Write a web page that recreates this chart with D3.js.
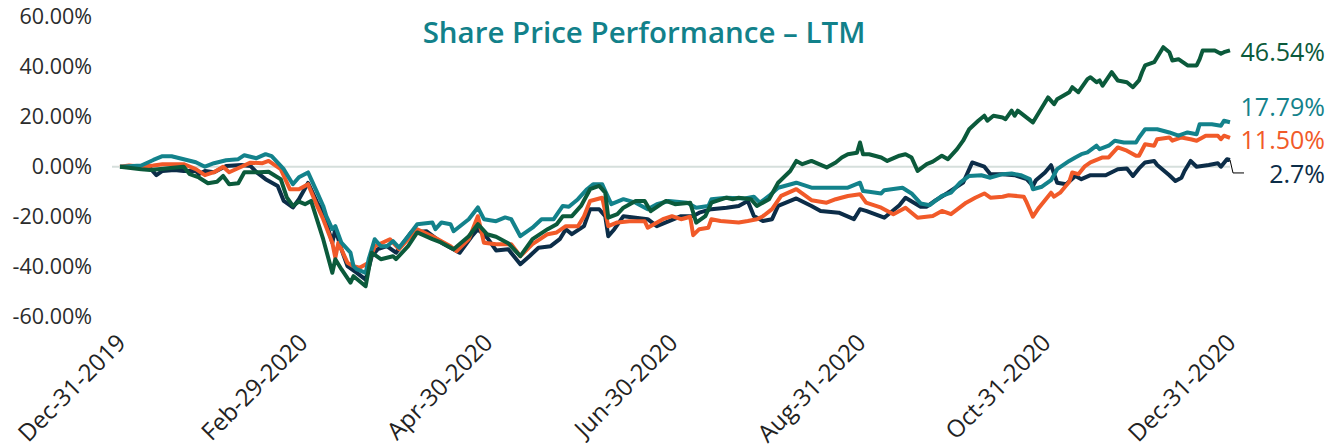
<!DOCTYPE html>
<html>
<head>
<meta charset="utf-8">
<script src="https://cdn.jsdelivr.net/npm/d3@7"></script>
<style>
  body { margin: 0; background: #fff; }
  svg { display: block; }
  text { font-family: "Open Sans", sans-serif; }
</style>
</head>
<body>
<svg id="chart" width="1337" height="448"></svg>
<script>
// Cumulative share price change (%) since Dec-31-2019
var greenSeries = [
  ["2019-12-31",0],["2020-01-07",-1],["2020-01-10",-1.3],["2020-01-15",-0.7],["2020-01-21",0],["2020-01-23",-3],
  ["2020-01-26",-4.3],["2020-01-29",-6.6],["2020-02-01",-6],["2020-02-03",-3.7],["2020-02-05",-7],["2020-02-08",-6.6],
  ["2020-02-10",-2.2],["2020-02-15",-2.2],["2020-02-18",-2],["2020-02-22",-5],["2020-02-24",-12.3],["2020-02-26",-15.7],
  ["2020-02-28",-14],["2020-03-01",-15],["2020-03-03",-13.7],["2020-03-07",-29],["2020-03-10",-42.4],["2020-03-11",-37],
  ["2020-03-13",-41],["2020-03-16",-46.4],["2020-03-17",-43.8],["2020-03-21",-47.8],["2020-03-23",-34.4],["2020-03-26",-37],
  ["2020-03-30",-35.8],["2020-03-31",-37],["2020-04-04",-31.8],["2020-04-07",-26.3],["2020-04-12",-29],["2020-04-15",-30.4],
  ["2020-04-19",-33],["2020-04-24",-27.8],["2020-04-27",-23],["2020-04-30",-27],["2020-05-03",-28],["2020-05-07",-30.6],
  ["2020-05-11",-35.8],["2020-05-15",-29],["2020-05-20",-25],["2020-05-23",-23],["2020-05-25",-19.8],["2020-05-28",-19.8],
  ["2020-05-31",-15.7],["2020-06-03",-9],["2020-06-06",-7.7],["2020-06-08",-10.4],["2020-06-09",-20.4],["2020-06-12",-19],
  ["2020-06-14",-16.4],["2020-06-18",-13.7],["2020-06-21",-13.7],["2020-06-23",-17.8],["2020-06-28",-13.7],["2020-07-01",-15],
  ["2020-07-06",-14.4],["2020-07-08",-22.4],["2020-07-11",-19.8],["2020-07-13",-14.4],["2020-07-18",-12.4],["2020-07-20",-13],
  ["2020-07-22",-12.4],["2020-07-26",-13],["2020-07-28",-15.7],["2020-08-01",-13],["2020-08-04",-6.4],["2020-08-08",-1.7],
  ["2020-08-10",2.3],["2020-08-12",1],["2020-08-15",2.3],["2020-08-20",-0.3],["2020-08-23",1.7],["2020-08-25",3.7],
  ["2020-08-27",5],["2020-08-30",5.6],["2020-08-31",9.7],["2020-09-01",5],["2020-09-03",5],["2020-09-07",3.7],
  ["2020-09-09",2.3],["2020-09-13",4.4],["2020-09-15",5],["2020-09-17",3.7],["2020-09-19",-1.7],["2020-09-22",1],
  ["2020-09-24",2],["2020-09-27",4.4],["2020-09-29",3],["2020-10-02",7],["2020-10-04",10.4],["2020-10-06",15],
  ["2020-10-09",18.4],["2020-10-11",20.4],["2020-10-12",18.4],["2020-10-14",20.4],["2020-10-17",19.7],["2020-10-18",19],
  ["2020-10-20",22.4],["2020-10-21",20.4],["2020-10-22",22.4],["2020-10-27",17.7],["2020-10-29",21.7],["2020-11-01",27.7],
  ["2020-11-03",25],["2020-11-04",27],["2020-11-08",29.8],["2020-11-09",31.8],["2020-11-11",29.8],["2020-11-14",35],
  ["2020-11-15",35.8],["2020-11-17",33.8],["2020-11-18",34.5],["2020-11-19",32.4],["2020-11-22",37.8],["2020-11-24",34.5],
  ["2020-11-27",33.8],["2020-11-29",31.8],["2020-12-01",34.5],["2020-12-02",37.8],["2020-12-03",40.5],["2020-12-06",41.8],
  ["2020-12-08",45.8],["2020-12-09",47.8],["2020-12-11",45.8],["2020-12-12",42.5],["2020-12-14",43],["2020-12-17",40.5],
  ["2020-12-20",40.5],["2020-12-21",43],["2020-12-22",46.5],["2020-12-26",46.5],["2020-12-28",45.2],["2020-12-29",45.8],
  ["2020-12-31",46.54]
];

var tealSeries = [
  ["2019-12-31",0],["2020-01-07",0.5],["2020-01-11",2.7],["2020-01-14",4.2],["2020-01-17",4.2],["2020-01-21",3],
  ["2020-01-25",1.8],["2020-01-28",0],["2020-01-31",1.4],["2020-02-04",2.6],["2020-02-08",3],["2020-02-10",4.6],
  ["2020-02-14",3.4],["2020-02-17",5],["2020-02-19",4.2],["2020-02-23",-1],["2020-02-26",-7],["2020-02-28",-4.2],
  ["2020-03-02",-2.3],["2020-03-05",-10.3],["2020-03-07",-15.7],["2020-03-08",-19.7],["2020-03-10",-25],["2020-03-11",-23.8],
  ["2020-03-13",-30.4],["2020-03-16",-34.4],["2020-03-17",-39.8],["2020-03-18",-41],["2020-03-21",-42.5],["2020-03-22",-37],
  ["2020-03-24",-29],["2020-03-26",-31.8],["2020-03-28",-31.8],["2020-03-30",-29.8],["2020-04-01",-32.4],["2020-04-04",-27.8],
  ["2020-04-07",-23],["2020-04-12",-22.3],["2020-04-13",-25],["2020-04-15",-22.3],["2020-04-18",-23],["2020-04-19",-25.8],
  ["2020-04-24",-21],["2020-04-27",-16.3],["2020-04-29",-21],["2020-05-03",-21.8],["2020-05-06",-20.3],["2020-05-08",-21],
  ["2020-05-11",-27.8],["2020-05-15",-24.4],["2020-05-18",-21],["2020-05-22",-21],["2020-05-25",-15.7],["2020-05-27",-16],
  ["2020-05-30",-13],["2020-06-02",-9],["2020-06-04",-7],["2020-06-07",-7],["2020-06-08",-9.7],["2020-06-10",-15],
  ["2020-06-14",-13],["2020-06-18",-14.4],["2020-06-22",-17],["2020-06-25",-15],["2020-06-29",-13.7],["2020-07-05",-14.4],
  ["2020-07-08",-16.4],["2020-07-12",-15.7],["2020-07-13",-13],["2020-07-18",-12.4],["2020-07-24",-12.7],["2020-07-27",-12],
  ["2020-07-29",-14.4],["2020-08-01",-11.7],["2020-08-04",-8.4],["2020-08-10",-6.4],["2020-08-15",-8.4],["2020-08-22",-8.4],
  ["2020-08-27",-8.4],["2020-08-31",-6.4],["2020-09-01",-9.7],["2020-09-03",-10],["2020-09-07",-10.7],["2020-09-08",-9.4],
  ["2020-09-14",-8.4],["2020-09-17",-10.7],["2020-09-20",-14.7],["2020-09-23",-15.4],["2020-09-27",-11.7],["2020-09-30",-10.4],
  ["2020-10-03",-6.4],["2020-10-06",-3.7],["2020-10-10",-3.4],["2020-10-13",-4.4],["2020-10-17",-3],["2020-10-20",-2.7],
  ["2020-10-23",-3.4],["2020-10-26",-5],["2020-10-27",-9],["2020-10-30",-8],["2020-11-02",-5.4],["2020-11-04",-1],
  ["2020-11-08",2.3],["2020-11-10",3.7],["2020-11-12",5],["2020-11-14",5.7],["2020-11-17",8.4],["2020-11-18",7],
  ["2020-11-21",8.4],["2020-11-23",10.4],["2020-11-26",9.7],["2020-11-30",9.7],["2020-12-01",11.7],["2020-12-03",15],
  ["2020-12-07",15],["2020-12-11",13.7],["2020-12-14",12.4],["2020-12-17",13.7],["2020-12-20",13],["2020-12-21",17],
  ["2020-12-25",17],["2020-12-28",16.4],["2020-12-29",18.4],["2020-12-31",17.79]
];

var orangeSeries = [
  ["2019-12-31",0],["2020-01-03",0.5],["2020-01-07",0],["2020-01-11",0.5],["2020-01-14",1],["2020-01-21",1],
  ["2020-01-25",-1],["2020-01-28",-3.4],["2020-01-31",-2.2],["2020-02-03",0],["2020-02-05",-2.2],["2020-02-09",0],
  ["2020-02-12",1.6],["2020-02-16",1.4],["2020-02-18",2.3],["2020-02-22",-1],["2020-02-25",-9],["2020-02-28",-9],
  ["2020-03-02",-7],["2020-03-05",-15.7],["2020-03-07",-21],["2020-03-10",-30.4],["2020-03-11",-36.4],["2020-03-12",-30.4],
  ["2020-03-15",-38.4],["2020-03-17",-39.8],["2020-03-19",-40.4],["2020-03-22",-38.4],["2020-03-24",-31.8],["2020-03-29",-29],
  ["2020-04-01",-33],["2020-04-07",-25],["2020-04-12",-27.8],["2020-04-18",-31.8],["2020-04-20",-33.8],["2020-04-24",-29],
  ["2020-04-27",-19.8],["2020-04-29",-30.4],["2020-05-03",-31],["2020-05-08",-31],["2020-05-11",-35.8],["2020-05-15",-31],
  ["2020-05-20",-27],["2020-05-23",-26.3],["2020-05-26",-23.8],["2020-05-30",-23.8],["2020-06-01",-19.8],["2020-06-03",-13.7],
  ["2020-06-07",-12.4],["2020-06-09",-23.8],["2020-06-12",-22.3],["2020-06-16",-21.8],["2020-06-21",-21.8],["2020-06-22",-24.4],
  ["2020-06-27",-21],["2020-06-30",-19.8],["2020-07-03",-21],["2020-07-06",-20],["2020-07-07",-27.4],["2020-07-09",-25],
  ["2020-07-12",-24.4],["2020-07-13",-21],["2020-07-16",-21.7],["2020-07-22",-22.3],["2020-07-25",-21.7],["2020-07-28",-21],
  ["2020-07-30",-19.8],["2020-08-02",-17],["2020-08-05",-11.7],["2020-08-10",-9],["2020-08-15",-13.4],["2020-08-20",-14.4],
  ["2020-08-23",-13],["2020-08-27",-11.7],["2020-08-31",-11],["2020-09-02",-14.4],["2020-09-07",-16.4],["2020-09-11",-19],
  ["2020-09-15",-16.4],["2020-09-19",-20.4],["2020-09-24",-19.7],["2020-09-27",-17.7],["2020-09-30",-19],["2020-10-05",-14.4],
  ["2020-10-08",-12.4],["2020-10-11",-10.7],["2020-10-13",-12.4],["2020-10-17",-12],["2020-10-19",-11.4],["2020-10-24",-12],
  ["2020-10-25",-14.4],["2020-10-27",-20],["2020-10-29",-16.4],["2020-11-02",-10.4],["2020-11-03",-12],["2020-11-05",-10.4],
  ["2020-11-08",-6],["2020-11-09",-2.3],["2020-11-11",-3],["2020-11-13",0],["2020-11-15",1.7],["2020-11-19",3.7],
  ["2020-11-21",3.7],["2020-11-24",7.7],["2020-11-27",6.4],["2020-11-30",4.4],["2020-12-01",4.4],["2020-12-03",9],
  ["2020-12-06",8.4],["2020-12-07",11],["2020-12-11",11.7],["2020-12-12",10.4],["2020-12-15",11.7],["2020-12-18",11],
  ["2020-12-20",10.4],["2020-12-23",12.4],["2020-12-27",12.4],["2020-12-28",11],["2020-12-29",12.4],["2020-12-31",11.5]
];

var navySeries = [
  ["2019-12-31",0],["2020-01-07",-0.2],["2020-01-10",-0.7],["2020-01-12",-3.4],["2020-01-14",-1.7],["2020-01-18",-1.3],
  ["2020-01-21",-1.7],["2020-01-25",-1.7],["2020-01-26",-3],["2020-01-28",-1.7],["2020-01-31",-2.2],["2020-02-04",0.3],
  ["2020-02-09",0.7],["2020-02-12",0.3],["2020-02-14",-2.2],["2020-02-17",-5],["2020-02-21",-7.7],["2020-02-23",-13.7],
  ["2020-02-26",-16.3],["2020-02-28",-13],["2020-03-02",-6.5],["2020-03-05",-14.3],["2020-03-07",-18.3],["2020-03-10",-30.4],
  ["2020-03-11",-25],["2020-03-13",-33],["2020-03-15",-39.8],["2020-03-18",-42.4],["2020-03-21",-45.2],["2020-03-23",-35.8],
  ["2020-03-25",-33],["2020-03-28",-31.8],["2020-03-31",-34.4],["2020-04-05",-26.3],["2020-04-10",-25.8],["2020-04-15",-30.4],
  ["2020-04-21",-34.4],["2020-04-25",-27.8],["2020-04-27",-25],["2020-04-30",-28.3],["2020-05-03",-33.5],["2020-05-07",-33],
  ["2020-05-11",-39],["2020-05-14",-35.8],["2020-05-17",-32.4],["2020-05-21",-31.8],["2020-05-24",-29],["2020-05-26",-25],
  ["2020-05-28",-27],["2020-06-01",-23.8],["2020-06-03",-17],["2020-06-06",-17],["2020-06-08",-19.8],["2020-06-09",-27.8],
  ["2020-06-11",-25],["2020-06-14",-19.8],["2020-06-18",-20.4],["2020-06-22",-21],["2020-06-25",-23.8],["2020-06-29",-21.8],
  ["2020-07-03",-19.8],["2020-07-07",-19.7],["2020-07-09",-18.4],["2020-07-13",-17],["2020-07-18",-16.4],["2020-07-22",-15.7],
  ["2020-07-25",-13.7],["2020-07-27",-19.7],["2020-07-30",-21.7],["2020-08-02",-21],["2020-08-04",-15.7],["2020-08-10",-12.7],
  ["2020-08-15",-15.7],["2020-08-18",-17.7],["2020-08-24",-18.4],["2020-08-29",-21],["2020-08-31",-17],["2020-09-02",-17.7],
  ["2020-09-08",-20.4],["2020-09-13",-15.4],["2020-09-15",-12.4],["2020-09-20",-16],["2020-09-22",-16],["2020-09-25",-13.4],
  ["2020-09-29",-10.4],["2020-10-04",-6.4],["2020-10-07",1.7],["2020-10-11",0],["2020-10-13",-3],["2020-10-17",-3],
  ["2020-10-21",-3.4],["2020-10-25",-5],["2020-10-27",-7.7],["2020-10-28",-5.4],["2020-10-31",-2.3],["2020-11-02",0.6],
  ["2020-11-04",-6.4],["2020-11-07",-7],["2020-11-10",-3.7],["2020-11-12",-5],["2020-11-15",-3.4],["2020-11-20",-3.4],
  ["2020-11-24",-1],["2020-11-27",-0.7],["2020-11-29",-3.7],["2020-12-01",-0.7],["2020-12-03",1.7],["2020-12-06",2.3],
  ["2020-12-07",0.7],["2020-12-11",-3.4],["2020-12-13",-5.7],["2020-12-15",-4.4],["2020-12-16",-1.7],["2020-12-18",2.3],
  ["2020-12-20",0],["2020-12-24",0.7],["2020-12-27",1.4],["2020-12-28",0],["2020-12-30",3],["2020-12-31",2.7]
];

var tickDates = ["2019-12-31","2020-02-29","2020-04-30","2020-06-30","2020-08-31","2020-10-31","2020-12-31"];
var tickLabels = ["Dec-31-2019","Feb-29-2020","Apr-30-2020","Jun-30-2020","Aug-31-2020","Oct-31-2020","Dec-31-2020"];
var yTicks = [-60, -40, -20, 0, 20, 40, 60];
var endLabels = ["46.54%", "17.79%", "11.50%", "2.7%"];

var chartTitle = "Share Price Performance \u2013 LTM";

var parseDate = d3.timeParse("%Y-%m-%d");

var svg = d3.select("#chart");

var xScale = d3.scaleTime()
    .domain([parseDate("2019-12-31"), parseDate("2020-12-31")])
    .range([120, 1230]);

var yScale = d3.scaleLinear()
    .domain([-60, 60])
    .range([316.7, 16.7]);

// title
svg.append("text")
    .attr("x", 644)
    .attr("y", 43)
    .attr("text-anchor", "middle")
    .style("font-size", "29.5px")
    .style("font-weight", 600)
    .style("fill", "#12818a")
    .text(chartTitle);

// y axis labels, no axis line or ticks
var yAxis = d3.axisLeft(yScale)
    .tickValues(yTicks)
    .tickSize(0)
    .tickPadding(0)
    .tickFormat(function (d) { return d.toFixed(2) + "%"; });

svg.append("g")
    .attr("transform", "translate(92,0)")
    .call(yAxis)
    .call(function (g) { g.select(".domain").remove(); })
    .selectAll("text")
    .style("font-family", "'Open Sans', sans-serif")
    .style("font-size", "21.5px")
    .style("fill", "#2b2b2b");

// zero line
svg.append("line")
    .attr("x1", 112)
    .attr("x2", xScale.range()[1])
    .attr("y1", yScale(0))
    .attr("y2", yScale(0))
    .style("stroke", "#d6dfdc")
    .style("stroke-width", 2);

// x axis with rotated date labels
var xAxis = d3.axisBottom(xScale)
    .tickValues(tickDates.map(parseDate))
    .tickSize(0)
    .tickFormat(function (d, i) { return tickLabels[i]; });

svg.append("g")
    .attr("transform", "translate(0,334)")
    .call(xAxis)
    .call(function (g) { g.select(".domain").remove(); })
    .selectAll("text")
    .attr("text-anchor", "end")
    .attr("dx", "-0.1em")
    .attr("dy", "0.5em")
    .attr("y", 0)
    .attr("transform", "rotate(-45)")
    .style("font-family", "'Open Sans', sans-serif")
    .style("font-size", "24px")
    .style("fill", "#222");

var line = d3.line()
    .x(function (d) { return xScale(parseDate(d[0])); })
    .y(function (d) { return yScale(d[1]); });

var seriesList = [
    { data: navySeries, color: "#0c2d48" },
    { data: orangeSeries, color: "#f15a29" },
    { data: tealSeries, color: "#13828b" },
    { data: greenSeries, color: "#0b5a3b" }
];

svg.append("g").selectAll("path")
    .data(seriesList)
    .enter()
    .append("path")
    .attr("d", function (d) { return line(d.data); })
    .style("fill", "none")
    .style("stroke", function (d) { return d.color; })
    .style("stroke-width", 4)
    .style("stroke-linejoin", "round");

// end-of-line labels
var lastX = xScale.range()[1];
var labelInfo = [
    { text: endLabels[0], v: greenSeries[greenSeries.length - 1][1], dy: 2, color: "#0b5a3b" },
    { text: endLabels[1], v: tealSeries[tealSeries.length - 1][1], dy: -15, color: "#13828b" },
    { text: endLabels[2], v: orangeSeries[orangeSeries.length - 1][1], dy: 2, color: "#f15a29" },
    { text: endLabels[3], v: navySeries[navySeries.length - 1][1], dy: 14, color: "#0c2d48" }
];

svg.append("g").selectAll("text")
    .data(labelInfo)
    .enter()
    .append("text")
    .attr("x", 1325)
    .attr("y", function (d) { return yScale(d.v) + d.dy; })
    .attr("dy", "0.35em")
    .attr("text-anchor", "end")
    .style("font-size", "25px")
    .style("fill", function (d) { return d.color; })
    .text(function (d) { return d.text; });

// leader line for the last label
var navyEnd = yScale(navySeries[navySeries.length - 1][1]);
svg.append("polyline")
    .attr("points", [[lastX, navyEnd], [lastX + 3, navyEnd + 13], [lastX + 14, navyEnd + 13]].join(" "))
    .style("fill", "none")
    .style("stroke", "#000")
    .style("stroke-width", 1);
</script>
</body>
</html>
